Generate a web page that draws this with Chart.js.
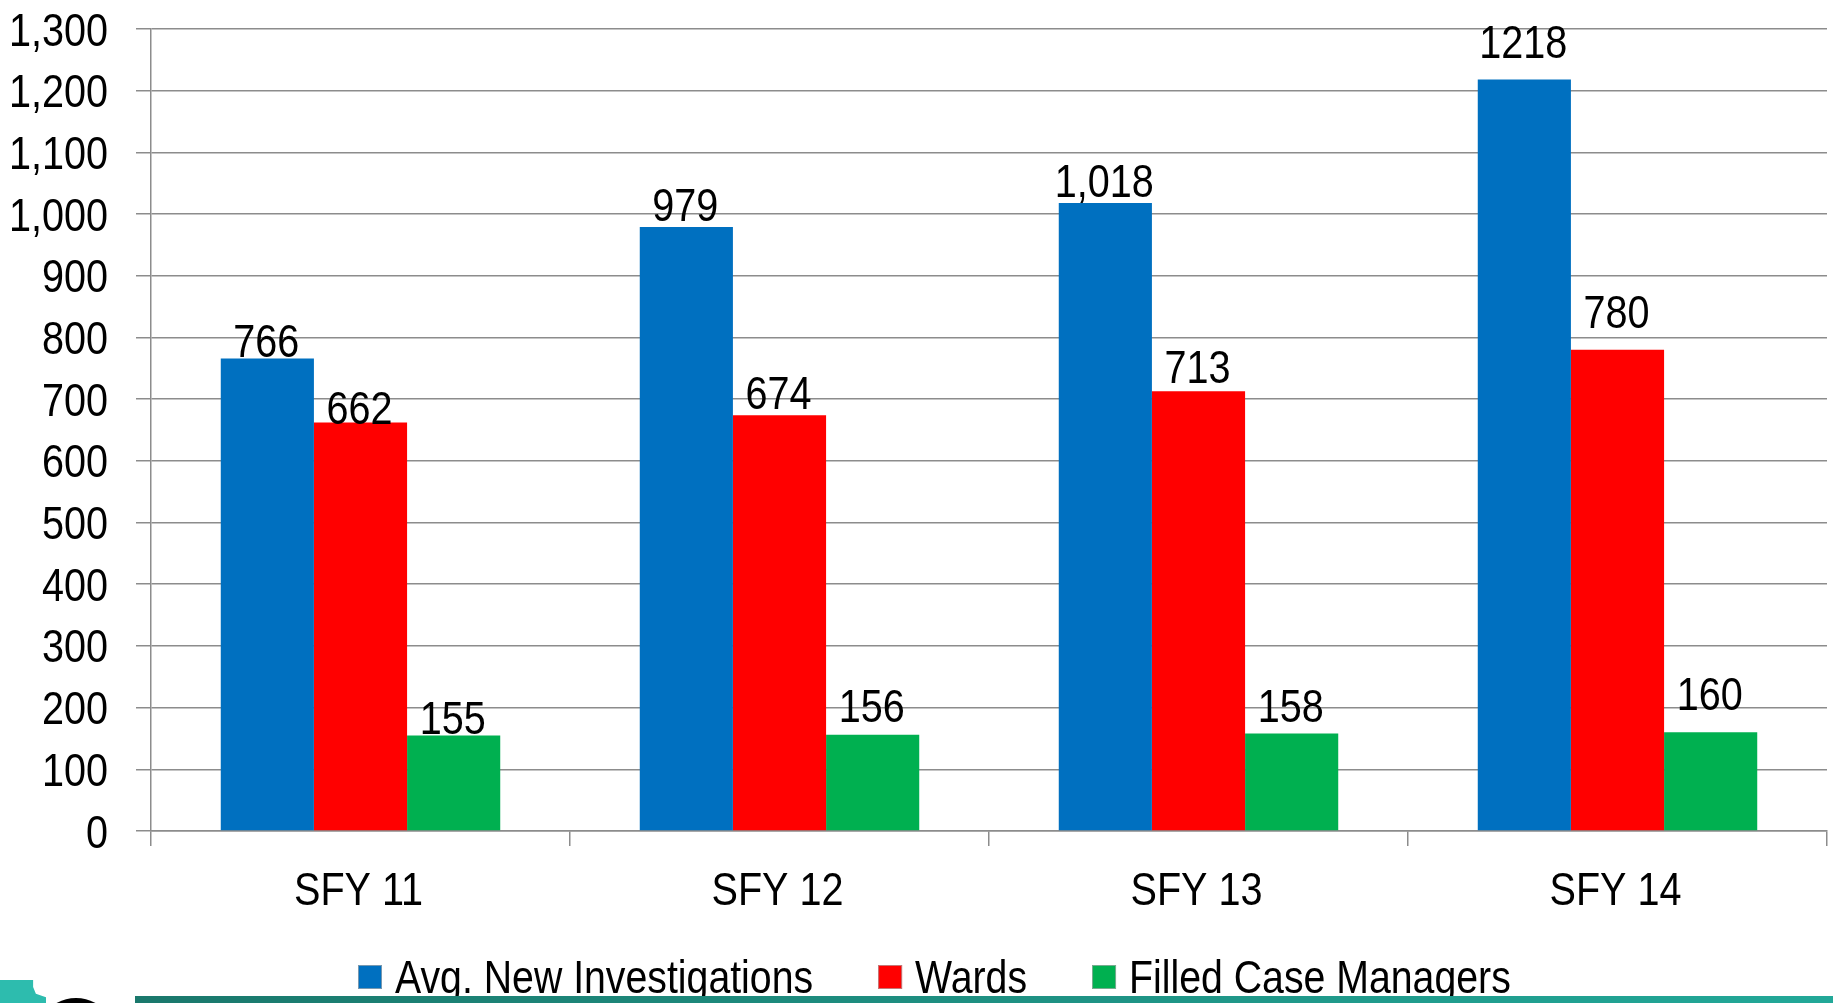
<!DOCTYPE html>
<html>
<head>
<meta charset="utf-8">
<script src="https://cdn.jsdelivr.net/npm/chart.js@4/dist/chart.umd.min.js"></script>
<style>
  html, body { margin: 0; padding: 0; background: #fff; }
  #wrap { position: relative; width: 1833px; height: 1003px; overflow: hidden; }
  #c { position: absolute; left: 0; top: 0; }
  #bar { position: absolute; left: 135px; top: 996px; width: 1698px; height: 7px;
         background: linear-gradient(to right, #1a786c, #22a898); }
  #logo1 { position: absolute; left: 0; top: 980px; width: 46px; height: 23px; background: #2dbcae;
           clip-path: polygon(0 0, 72% 0, 72% 30%, 78% 60%, 100% 75%, 100% 100%, 0 100%); }
  #logo2 { position: absolute; left: 50px; top: 998px; width: 52px; height: 30px; border-radius: 50%;
           border-top: 6px solid #000; box-sizing: border-box; }
</style>
</head>
<body>
<div id="wrap">
  <canvas id="c" width="1833" height="1003"></canvas>
  <div id="bar"></div>
  <div id="logo1"></div>
  <div id="logo2"></div>
</div>
<script>
// ---- data ----
const categories = ["SFY 11", "SFY 12", "SFY 13", "SFY 14"];
const seriesNames = ["Avg. New Investigations", "Wards", "Filled Case Managers"];
const avgNewInvestigations = [766, 979, 1018, 1218];
const wards = [662, 674, 713, 780];
const filledCaseManagers = [155, 156, 158, 160];
const investigationLabels = ["766", "979", "1,018", "1218"];
const wardLabels = ["662", "674", "713", "780"];
const managerLabels = ["155", "156", "158", "160"];
const yTickLabels = ["0", "100", "200", "300", "400", "500", "600", "700", "800", "900", "1,000", "1,100", "1,200", "1,300"];

// ---- style ----
const FONT = "'Liberation Sans', Arial, sans-serif";
const SQUEEZE = 0.86;
const LEGEND_SQUEEZE = 0.835;
const colors = ["#0070C0", "#FF0000", "#00B050"];
const labelGap = [[1, 6, 6, 22], [-1, 6, 8, 22], [1, 13, 12, 22]];
const valueLabels = [investigationLabels, wardLabels, managerLabels];

function narrowText(ctx, text, x, y, align, size, squeeze) {
  ctx.save();
  ctx.font = size + "px " + FONT;
  ctx.textBaseline = "alphabetic";
  ctx.textAlign = align;
  ctx.fillStyle = "#000";
  ctx.translate(x, y);
  ctx.scale(squeeze || SQUEEZE, 1);
  ctx.fillText(text, 0, 0);
  ctx.restore();
}

const textPlugin = {
  id: 'narrowTexts',
  afterDatasetsDraw(chart) {
    const ctx = chart.ctx;
    chart.data.datasets.forEach((ds, di) => {
      chart.getDatasetMeta(di).data.forEach((bar, i) => {
        narrowText(ctx, valueLabels[di][i], bar.x - 1, bar.y - labelGap[di][i], "center", 46);
      });
    });
  },
  afterDraw(chart) {
    const ctx = chart.ctx;
    const ys = chart.scales.y, xs = chart.scales.x;
    ys.ticks.forEach((t) => {
      const y = ys.getPixelForValue(t.value);
      narrowText(ctx, yTickLabels[Math.round(t.value / 100)], chart.chartArea.left - 43, y + 16.5, "right", 46);
    });
    categories.forEach((c, i) => {
      narrowText(ctx, c, xs.getPixelForValue(i) - 2, 905, "center", 46);
    });
    let x = 358;
    const base = 993;
    ctx.save();
    ctx.font = "47px " + FONT;
    seriesNames.forEach((name, i) => {
      ctx.fillStyle = colors[i];
      ctx.fillRect(x, 965, 24, 24);
      ctx.strokeStyle = "rgba(170,170,170,0.7)";
      ctx.lineWidth = 1;
      ctx.strokeRect(x + 0.5, 965.5, 23, 23);
      narrowText(ctx, name, x + 37, base, "left", 47, LEGEND_SQUEEZE);
      x += 37 + ctx.measureText(name).width * LEGEND_SQUEEZE + 65;
    });
    ctx.restore();
  }
};

new Chart(document.getElementById('c'), {
  type: 'bar',
  data: {
    labels: categories,
    datasets: [
      { label: seriesNames[0], data: avgNewInvestigations, backgroundColor: colors[0] },
      { label: seriesNames[1], data: wards, backgroundColor: colors[1] },
      { label: seriesNames[2], data: filledCaseManagers, backgroundColor: colors[2] }
    ]
  },
  options: {
    responsive: false,
    animation: false,
    devicePixelRatio: 1,
    layout: { padding: { left: 0, right: 6, top: 29, bottom: 85 } },
    datasets: { bar: { categoryPercentage: 0.667, barPercentage: 1.0, borderWidth: 0 } },
    plugins: { legend: { display: false }, tooltip: { enabled: false } },
    scales: {
      x: {
        offset: true,
        grid: { offset: true, drawOnChartArea: false, drawTicks: true, tickLength: 15, color: '#8c8c8c', lineWidth: 1.5 },
        border: { display: true, color: '#8c8c8c', width: 1.5 },
        ticks: { display: false },
        afterFit(scale) { scale.height = 87; }
      },
      y: {
        min: 0, max: 1300,
        grid: { color: '#8c8c8c', lineWidth: 1.5, drawTicks: true, tickLength: 15 },
        border: { display: true, color: '#8c8c8c', width: 1.5 },
        ticks: { display: false, stepSize: 100 },
        afterFit(scale) { scale.width = 151; }
      }
    }
  },
  plugins: [textPlugin]
});
</script>
</body>
</html>
